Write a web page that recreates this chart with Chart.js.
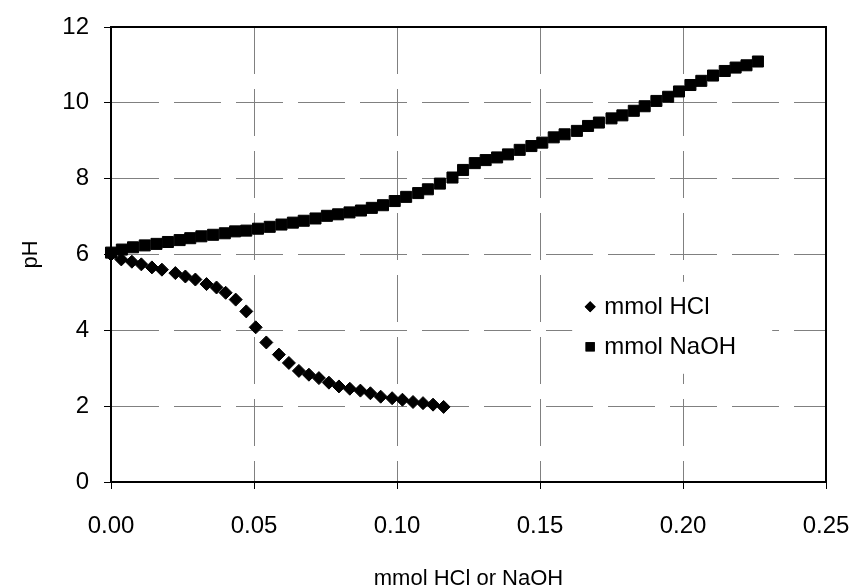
<!DOCTYPE html>
<html>
<head>
    <title>pH titration curve</title>
    <script src="https://cdn.jsdelivr.net/npm/chart.js"></script>
    <style>
        body {
            margin: 0;
            padding: 0;
            background: #fff;
        }
    </style>
</head>
<body>
    <canvas id="myChart" width="855" height="587"></canvas>

    <script>
        // data
        const hclX = [0.000, 0.0036, 0.0073, 0.0106, 0.0143, 0.0178, 0.0225, 0.0260, 0.0295, 0.0334,
            0.0369, 0.0401, 0.0436, 0.0473, 0.0506, 0.0543, 0.0587, 0.0622, 0.0657, 0.0692,
            0.0727, 0.0762, 0.0797, 0.0835, 0.0872, 0.0907, 0.0943, 0.0983, 0.1019, 0.1056,
            0.1091, 0.1126, 0.1163];
        const hclPH = [6.00, 5.87, 5.81, 5.74, 5.66, 5.60, 5.51, 5.42, 5.34, 5.22,
            5.13, 4.99, 4.81, 4.50, 4.08, 3.68, 3.36, 3.14, 2.93, 2.83,
            2.74, 2.62, 2.52, 2.46, 2.41, 2.34, 2.25, 2.21, 2.17, 2.11,
            2.08, 2.04, 1.98];

        const naohX = [0.000, 0.0038, 0.0077, 0.0118, 0.0159, 0.0199, 0.0240, 0.0277, 0.0316, 0.0357,
            0.0398, 0.0434, 0.0473, 0.0514, 0.0555, 0.0596, 0.0636, 0.0674, 0.0715, 0.0755,
            0.0794, 0.0834, 0.0874, 0.0912, 0.0951, 0.0992, 0.1032, 0.1074, 0.1108, 0.1150,
            0.1194, 0.1231, 0.1272, 0.1310, 0.1350, 0.1388, 0.1429, 0.1470, 0.1508, 0.1548,
            0.1586, 0.1629, 0.1668, 0.1706, 0.1750, 0.1788, 0.1828, 0.1866, 0.1907, 0.1948,
            0.1986, 0.2026, 0.2064, 0.2105, 0.2146, 0.2184, 0.2222, 0.2262];
        const naohPH = [6.05, 6.13, 6.19, 6.24, 6.28, 6.33, 6.38, 6.43, 6.48, 6.52,
            6.56, 6.61, 6.63, 6.68, 6.73, 6.79, 6.84, 6.89, 6.95, 7.02,
            7.06, 7.11, 7.16, 7.23, 7.30, 7.41, 7.52, 7.62, 7.72, 7.87,
            8.03, 8.23, 8.41, 8.49, 8.56, 8.64, 8.76, 8.86, 8.95, 9.09,
            9.17, 9.26, 9.39, 9.48, 9.59, 9.67, 9.79, 9.91, 10.05, 10.16,
            10.30, 10.47, 10.58, 10.72, 10.84, 10.93, 10.99, 11.09];

        const seriesNames = ['mmol HCl', 'mmol NaOH'];
        const xTicks = [0, 0.05, 0.10, 0.15, 0.20, 0.25];
        const yTicks = [0, 2, 4, 6, 8, 10, 12];

        const fontFamily = "'Liberation Sans', Arial, sans-serif";

        function toPoints(xs, ys) {
            return xs.map((x, i) => ({ x: x, y: ys[i] }));
        }

        // black frame on top and right of the plot area
        const framePlugin = {
            id: 'frame',
            beforeDatasetsDraw(chart) {
                const { ctx, chartArea } = chart;
                ctx.save();
                ctx.strokeStyle = '#000';
                ctx.lineWidth = 2;
                ctx.strokeRect(chartArea.left, chartArea.top,
                    chartArea.right - chartArea.left, chartArea.bottom - chartArea.top);
                ctx.restore();
            }
        };

        // legend sitting inside the plot
        const insideLegend = {
            id: 'insideLegend',
            afterDatasetsDraw(chart) {
                const { ctx, chartArea } = chart;
                const w = chartArea.right - chartArea.left;
                const h = chartArea.bottom - chartArea.top;
                const bx = chartArea.left + w * 0.645;
                const by = chartArea.top + h * 0.56;
                ctx.save();
                ctx.fillStyle = '#fff';
                ctx.fillRect(bx, by, 200, 92);
                ctx.font = '24px ' + fontFamily;
                ctx.textBaseline = 'middle';
                chart.data.datasets.forEach((ds, i) => {
                    const cy = by + 25 + i * 40;
                    const cx = bx + 18;
                    ctx.fillStyle = '#000';
                    Chart.helpers.drawPoint(ctx, {
                        pointStyle: ds.pointStyle,
                        radius: i === 0 ? 5.5 : 6.5,
                        borderWidth: 0
                    }, cx, cy);
                    ctx.fill();
                    ctx.fillText(ds.label, cx + 14, cy + 1);
                });
                ctx.restore();
            }
        };

        const myChart = new Chart(document.getElementById('myChart'), {
            type: 'scatter',
            data: {
                datasets: [{
                    label: seriesNames[0],
                    data: toPoints(hclX, hclPH),
                    pointStyle: 'rectRot',
                    pointRadius: 6.5,
                    backgroundColor: '#000',
                    borderColor: '#000',
                    borderWidth: 1,
                    clip: false
                }, {
                    label: seriesNames[1],
                    data: toPoints(naohX, naohPH),
                    pointStyle: 'rect',
                    pointRadius: 7.8,
                    backgroundColor: '#000',
                    borderColor: '#000',
                    borderWidth: 1,
                    clip: false
                }]
            },
            options: {
                responsive: false,
                animation: false,
                events: [],
                layout: {
                    padding: { top: 27, right: 29, left: 0, bottom: 0 }
                },
                plugins: {
                    legend: { display: false },
                    tooltip: { enabled: false }
                },
                scales: {
                    x: {
                        type: 'linear',
                        min: 0,
                        max: 0.25,
                        afterBuildTicks: scale => {
                            scale.ticks = xTicks.map(v => ({ value: v }));
                        },
                        afterFit: scale => {
                            scale.height = 105;
                            scale.paddingLeft = 0;
                            scale.paddingRight = 0;
                        },
                        grid: {
                            color: '#808080',
                            lineWidth: 1,
                            tickLength: 7,
                            tickColor: '#000',
                            tickWidth: 1,
                            tickBorderDash: []
                        },
                        border: {
                            color: '#000',
                            width: 2,
                            dash: [47, 15]
                        },
                        ticks: {
                            color: '#000',
                            padding: 23,
                            maxRotation: 0,
                            font: { family: fontFamily, size: 24 },
                            callback: v => v.toFixed(2)
                        },
                        title: {
                            display: true,
                            text: 'mmol HCl or NaOH',
                            color: '#000',
                            padding: { top: 0, bottom: -5 },
                            font: { family: fontFamily, size: 22 }
                        }
                    },
                    y: {
                        type: 'linear',
                        min: 0,
                        max: 12,
                        afterBuildTicks: scale => {
                            scale.ticks = yTicks.map(v => ({ value: v }));
                        },
                        afterFit: scale => {
                            scale.width = 111;
                            scale.paddingTop = 0;
                            scale.paddingBottom = 0;
                        },
                        grid: {
                            color: '#808080',
                            lineWidth: 1,
                            tickLength: 7,
                            tickColor: '#000',
                            tickWidth: 1,
                            tickBorderDash: []
                        },
                        border: {
                            color: '#000',
                            width: 2,
                            dash: [47, 15]
                        },
                        ticks: {
                            color: '#000',
                            padding: 15,
                            font: { family: fontFamily, size: 24 }
                        },
                        title: {
                            display: true,
                            text: 'pH',
                            color: '#000',
                            padding: { top: 18, bottom: 0 },
                            font: { family: fontFamily, size: 22 }
                        }
                    }
                }
            },
            plugins: [framePlugin, insideLegend]
        });
    </script>
</body>
</html>
